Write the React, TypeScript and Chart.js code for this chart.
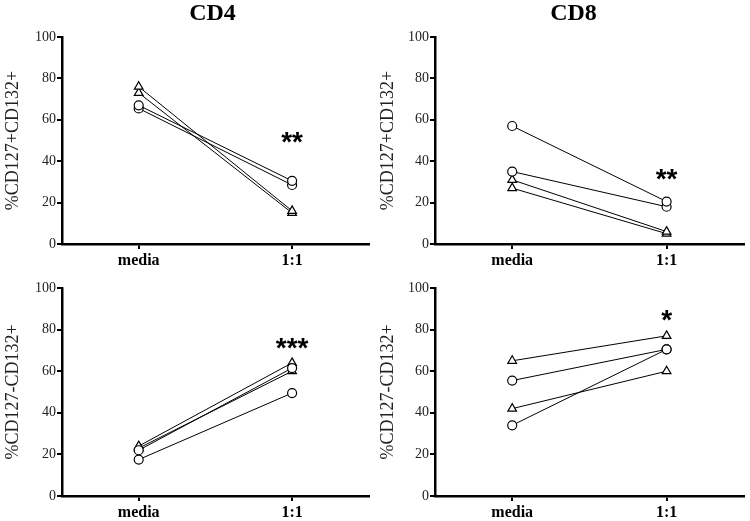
import React, { useEffect, useRef } from 'react';
import { Chart, registerables } from 'chart.js';

Chart.register(...registerables);

// ---------- data ----------
const categories = ['media', '1:1'];
const yMin = 0;
const yMax = 100;
const yStep = 20;

const panelTitles = ['CD4', 'CD8', '', ''];
const yAxisTitles = ['%CD127+CD132+', '%CD127+CD132+', '%CD127-CD132+', '%CD127-CD132+'];

// CD4, %CD127+CD132+
const cd4PosCircleA = [67, 30.5];
const cd4PosCircleB = [65.5, 28.5];
const cd4PosTriangleA = [76, 16];
const cd4PosTriangleB = [73, 15];

// CD8, %CD127+CD132+
const cd8PosCircleA = [57, 20.5];
const cd8PosCircleB = [35, 18];
const cd8PosTriangleA = [31, 6];
const cd8PosTriangleB = [27, 5];

// CD4, %CD127-CD132+
const cd4NegCircleA = [22, 61.5];
const cd4NegCircleB = [17.5, 49.5];
const cd4NegTriangleA = [24, 64];
const cd4NegTriangleB = [23, 60];

// CD8, %CD127-CD132+
const cd8NegCircleA = [55.5, 70.5];
const cd8NegCircleB = [34, 70.5];
const cd8NegTriangleA = [65, 77];
const cd8NegTriangleB = [42, 60];

// significance annotations (placed above the "1:1" group)
const sigLabels = ['**', '**', '***', '*'];
const sigLevels = [52.5, 35, 74.5, 88];

// ---------- styling / layout ----------
const SERIF = "'Liberation Serif', 'Times New Roman', Times, serif";
const SANS = "'Liberation Sans', Arial, Helvetica, sans-serif";

type Series = { values: number[]; marker: 'circle' | 'triangle' };

const panelSeries: Series[][] = [
  [
    { values: cd4PosCircleA, marker: 'circle' },
    { values: cd4PosCircleB, marker: 'circle' },
    { values: cd4PosTriangleA, marker: 'triangle' },
    { values: cd4PosTriangleB, marker: 'triangle' },
  ],
  [
    { values: cd8PosCircleA, marker: 'circle' },
    { values: cd8PosCircleB, marker: 'circle' },
    { values: cd8PosTriangleA, marker: 'triangle' },
    { values: cd8PosTriangleB, marker: 'triangle' },
  ],
  [
    { values: cd4NegCircleA, marker: 'circle' },
    { values: cd4NegCircleB, marker: 'circle' },
    { values: cd4NegTriangleA, marker: 'triangle' },
    { values: cd4NegTriangleB, marker: 'triangle' },
  ],
  [
    { values: cd8NegCircleA, marker: 'circle' },
    { values: cd8NegCircleB, marker: 'circle' },
    { values: cd8NegTriangleA, marker: 'triangle' },
    { values: cd8NegTriangleB, marker: 'triangle' },
  ],
];

type Layout = {
  left: number; top: number; width: number; height: number;
  axisWidth: number; padTop: number; padRight: number; xAxisHeight: number;
  titleX: number;
};

const layouts: Layout[] = [
  { left: 0, top: 0, width: 375, height: 275, axisWidth: 62, padTop: 37, padRight: 5, xAxisHeight: 31, titleX: 212.5 },
  { left: 375, top: 0, width: 375, height: 275, axisWidth: 60, padTop: 37, padRight: 5, xAxisHeight: 31, titleX: 198.5 },
  { left: 0, top: 275, width: 375, height: 246, axisWidth: 62, padTop: 13, padRight: 5, xAxisHeight: 25, titleX: 0 },
  { left: 375, top: 275, width: 375, height: 246, axisWidth: 60, padTop: 13, padRight: 5, xAxisHeight: 25, titleX: 0 },
];

function Panel({ index }: { index: number }) {
  const ref = useRef<HTMLCanvasElement | null>(null);
  const lay = layouts[index];

  useEffect(() => {
    if (!ref.current) return;
    const series = panelSeries[index];
    const annotate = {
      id: 'annotate' + index,
      afterDraw(chart: any) {
        const ctx = chart.ctx;
        const x = chart.scales.x;
        const y = chart.scales.y;
        ctx.save();
        if (panelTitles[index]) {
          ctx.font = `bold 24px ${SERIF}`;
          ctx.fillStyle = '#000';
          ctx.textAlign = 'center';
          ctx.textBaseline = 'alphabetic';
          ctx.fillText(panelTitles[index], lay.titleX, 20);
        }
        ctx.font = `bold 28px ${SANS}`;
        ctx.fillStyle = '#000';
        ctx.textAlign = 'center';
        ctx.textBaseline = 'alphabetic';
        const px = x.getPixelForValue(1);
        const py = y.getPixelForValue(sigLevels[index]) + 16;
        ctx.fillText(sigLabels[index], px, py);
        ctx.restore();
      },
    };

    const chart = new Chart(ref.current, {
      type: 'line',
      data: {
        labels: categories,
        datasets: series.map((s) => ({
          data: s.values,
          borderColor: '#000',
          borderWidth: 1,
          pointStyle: s.marker,
          pointRadius: s.marker === 'circle' ? 4.5 : 5,
          pointBorderWidth: 1.2,
          pointBorderColor: '#000',
          pointBackgroundColor: '#fff',
          fill: false,
          tension: 0,
        })),
      },
      options: {
        responsive: false,
        animation: false,
        events: [],
        layout: { padding: { left: 0, right: lay.padRight, top: lay.padTop, bottom: 0 } },
        plugins: {
          legend: { display: false },
          tooltip: { enabled: false },
          title: { display: false },
        },
        scales: {
          x: {
            type: 'category',
            offset: true,
            afterFit: (scale: any) => { scale.height = lay.xAxisHeight; },
            border: { display: true, color: '#000', width: 2.5 },
            grid: {
              display: true,
              drawOnChartArea: false,
              drawTicks: true,
              tickLength: 5,
              tickColor: '#000',
              tickWidth: 2,
              color: '#000',
              lineWidth: 2,
              offset: false,
            },
            ticks: {
              padding: 2,
              color: '#000',
              font: { family: SERIF, size: 16, weight: 'bold' },
              maxRotation: 0,
              autoSkip: false,
            },
          },
          y: {
            type: 'linear',
            min: yMin,
            max: yMax,
            afterFit: (scale: any) => { scale.width = lay.axisWidth; },
            border: { display: true, color: '#000', width: 2.5 },
            grid: {
              display: true,
              drawOnChartArea: false,
              drawTicks: true,
              tickLength: 5,
              tickColor: '#000',
              tickWidth: 2,
              color: '#000',
              lineWidth: 2,
            },
            ticks: {
              stepSize: yStep,
              padding: 1,
              color: '#222',
              font: { family: SERIF, size: 14 },
            },
            title: {
              display: true,
              text: yAxisTitles[index],
              color: '#222',
              padding: { top: 2, bottom: 0 },
              font: { family: SERIF, size: 18, lineHeight: 1.2 },
            },
          },
        },
      },
      plugins: [annotate],
    } as any);
    return () => chart.destroy();
  }, [index]);

  return (
    <div style={{ position: 'absolute', left: lay.left, top: lay.top, width: lay.width, height: lay.height }}>
      <canvas ref={ref} width={lay.width} height={lay.height} style={{ display: 'block' }} />
    </div>
  );
}

export default function App() {
  return (
    <div style={{ position: 'absolute', left: 0, top: 0, width: 750, height: 521, background: '#fff' }}>
      {[0, 1, 2, 3].map((i) => (
        <Panel key={i} index={i} />
      ))}
    </div>
  );
}
